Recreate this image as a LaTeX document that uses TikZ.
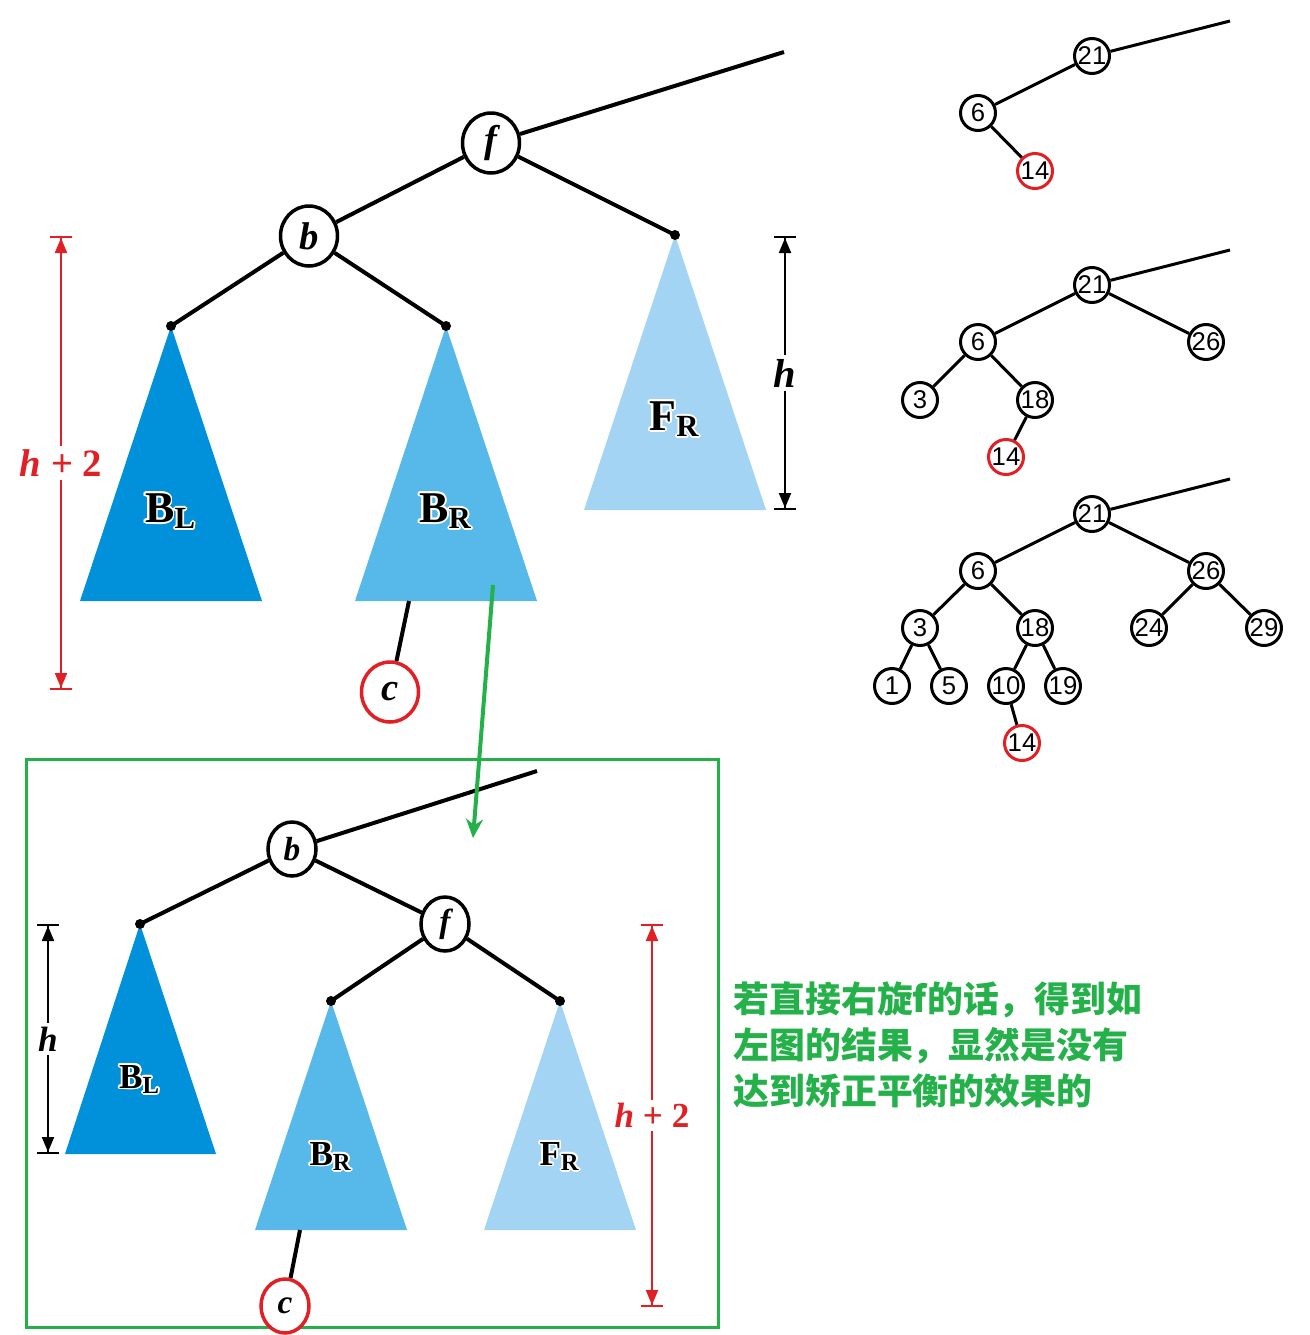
\documentclass[tikz,border=0pt]{standalone}
\usepackage{fontspec}
\setmainfont{Liberation Serif}
\newfontfamily\numfont{Liberation Sans}
\newfontfamily\cjkfont{Noto Sans CJK SC}
\usepackage{contour}
\contourlength{0.5pt}
\usetikzlibrary{arrows.meta,positioning,shapes.geometric}
\definecolor{treeBL}{RGB}{0,145,218}
\definecolor{treeBR}{RGB}{86,185,234}
\definecolor{treeFR}{RGB}{163,212,243}
\definecolor{markred}{RGB}{224,32,36}
\definecolor{notegreen}{RGB}{36,177,74}
\newcommand{\treelabel}[2]{\contour{white}{#1\textsubscript{#2}}}

\begin{document}
\begin{tikzpicture}[x=0.1mm,y=-0.1mm,on grid,
	big/.style={ellipse,draw,line width=0.35mm,fill=white,inner sep=0pt,minimum width=5.7mm,minimum height=6mm,font=\fontsize{11}{13}\selectfont\bfseries\itshape},
	big2/.style={big,minimum width=4.8mm,minimum height=5.4mm,font=\fontsize{9.5}{11}\selectfont\bfseries\itshape},
	small/.style={circle,draw,line width=0.3mm,fill=white,inner sep=0pt,minimum size=3.5mm,font=\numfont\fontsize{7.3}{8}\selectfont},
	new/.style={draw=markred},
	link/.style={line width=0.4mm},
	thin link/.style={line width=0.3mm},
	dim/.style={line width=0.2mm,{Bar[width=2.2mm]Triangle[length=1.5mm,width=1.2mm]}-{Triangle[length=1.5mm,width=1.2mm]Bar[width=2.2mm]}},
	dimlabel/.style={fill=white,inner sep=1pt,font=\fontsize{#1}{14}\selectfont\bfseries},
	sub/.style={font=\fontsize{#1}{14}\selectfont\bfseries}]
	\useasboundingbox (0,0) rectangle (1310,1335);

	\coordinate (bl_1) at (171,326);
	\coordinate (br_1) at (446,326);
	\coordinate (fr_1) at (675,235);
	\coordinate (top_1) at (784,52);
	\coordinate (cb_1) at (409,601);
	\fill[treeBL] (bl_1) -- (80,601) -- (262,601) -- cycle;
	\fill[treeBR] (br_1) -- (355,601) -- (537,601) -- cycle;
	\fill[treeFR] (fr_1) -- (584,510) -- (766,510) -- cycle;
	\node[big] (f_1) at (491,143) {f};
	\node[big] (b_1) at (309,236) {b};
	\node[big,new] (c_1) at (390,692) {c};
	\node[sub=12.5] (lbl_bl1) at (171,512) {\treelabel{B}{L}};
	\node[sub=12.5] (lbl_br1) at (446,512) {\treelabel{B}{R}};
	\node[sub=12.5] (lbl_fr1) at (675,420) {\treelabel{F}{R}};
	\path[link]
		(f_1)	edge (top_1)
			edge (b_1)
			edge (fr_1)
		(b_1)	edge (bl_1)
			edge (br_1)
		(cb_1)	edge (c_1);
	\coordinate (d1_top) at (61,236);
	\coordinate (d1_bot) at (61,690);
	\coordinate (d2_top) at (785,236);
	\coordinate (d2_bot) at (785,510);
	\draw[dim,markred] (d1_top) -- node[dimlabel=11,text=markred] {\textit{h} + 2} (d1_bot);
	\draw[dim] (d2_top) -- node[dimlabel=11.5] {\textit{h}} (d2_bot);

	\draw[notegreen,line width=0.3mm] (26,759) rectangle (718,1327);

	\coordinate (bl_2) at (140,924);
	\coordinate (br_2) at (331,1001);
	\coordinate (fr_2) at (560,1001);
	\coordinate (top_2) at (537,771);
	\coordinate (cb_2) at (300,1230);
	\fill[treeBL] (bl_2) -- (65,1154) -- (216,1154) -- cycle;
	\fill[treeBR] (br_2) -- (255,1230) -- (407,1230) -- cycle;
	\fill[treeFR] (fr_2) -- (484,1230) -- (636,1230) -- cycle;
	\node[big2] (b_2) at (292,849) {b};
	\node[big2] (f_2) at (445,924) {f};
	\node[big2,new] (c_2) at (285,1306) {c};
	\node[sub=10] (lbl_bl2) at (140,1080) {\treelabel{B}{L}};
	\node[sub=10] (lbl_br2) at (331,1157) {\treelabel{B}{R}};
	\node[sub=10] (lbl_fr2) at (560,1157) {\treelabel{F}{R}};
	\path[link]
		(b_2)	edge (top_2)
			edge (bl_2)
			edge (f_2)
		(f_2)	edge (br_2)
			edge (fr_2)
		(cb_2)	edge (c_2);
	\coordinate (d3_top) at (48,924);
	\coordinate (d3_bot) at (48,1154);
	\coordinate (d4_top) at (652,924);
	\coordinate (d4_bot) at (652,1307);
	\draw[dim] (d3_top) -- node[dimlabel=10] {\textit{h}} (d3_bot);
	\draw[dim,markred] (d4_top) -- node[dimlabel=10,text=markred] {\textit{h} + 2} (d4_bot);

	\foreach \p in {bl_1,br_1,fr_1,bl_2,br_2,fr_2}
		\fill (\p) circle[radius=5];

	\node[small] (t1_21) at (1092,56) {21};
	\node[small] (t1_6) [below left=5.7mm and 11.4mm of t1_21] {6};
	\node[small,new] (t1_14) [below right=5.8mm and 5.7mm of t1_6] {14};
	\coordinate (t1_top) at (1230,21);
	\path[thin link]
		(t1_21)	edge (t1_top)
			edge (t1_6)
		(t1_6)	edge (t1_14);

	\node[small] (t2_21) at (1092,285) {21};
	\node[small] (t2_6) [below left=5.7mm and 11.4mm of t2_21] {6};
	\node[small] (t2_26) [below right=5.7mm and 11.4mm of t2_21] {26};
	\node[small] (t2_3) [below left=5.8mm and 5.8mm of t2_6] {3};
	\node[small] (t2_18) [below right=5.8mm and 5.7mm of t2_6] {18};
	\node[small,new] (t2_14) [below left=5.7mm and 2.9mm of t2_18] {14};
	\coordinate (t2_top) at (1230,250);
	\path[thin link]
		(t2_21)	edge (t2_top)
			edge (t2_6)
			edge (t2_26)
		(t2_6)	edge (t2_3)
			edge (t2_18)
		(t2_18)	edge (t2_14);

	\node[small] (t3_21) at (1092,514) {21};
	\node[small] (t3_6) [below left=5.7mm and 11.4mm of t3_21] {6};
	\node[small] (t3_26) [below right=5.7mm and 11.4mm of t3_21] {26};
	\node[small] (t3_3) [below left=5.7mm and 5.8mm of t3_6] {3};
	\node[small] (t3_18) [below right=5.7mm and 5.7mm of t3_6] {18};
	\node[small] (t3_24) [below left=5.7mm and 5.7mm of t3_26] {24};
	\node[small] (t3_29) [below right=5.7mm and 5.8mm of t3_26] {29};
	\node[small] (t3_1) [below left=5.8mm and 2.8mm of t3_3] {1};
	\node[small] (t3_5) [below right=5.8mm and 2.9mm of t3_3] {5};
	\node[small] (t3_10) [below left=5.8mm and 2.9mm of t3_18] {10};
	\node[small] (t3_19) [below right=5.8mm and 2.8mm of t3_18] {19};
	\node[small,new] (t3_14) [below right=5.7mm and 1.6mm of t3_10] {14};
	\coordinate (t3_top) at (1230,479);
	\path[thin link]
		(t3_21)	edge (t3_top)
			edge (t3_6)
			edge (t3_26)
		(t3_6)	edge (t3_3)
			edge (t3_18)
		(t3_26)	edge (t3_24)
			edge (t3_29)
		(t3_3)	edge (t3_1)
			edge (t3_5)
		(t3_18)	edge (t3_10)
			edge (t3_19)
		(t3_10)	edge (t3_14);

	\node[anchor=north west,inner sep=0pt,align=left,text=notegreen,font=\cjkfont\bfseries\fontsize{10.2}{13.1}\selectfont] (note) at (733,981) {若直接右旋f的话，得到如\\左图的结果，显然是没有\\达到矫正平衡的效果的};

	\coordinate (g_from) at (493,585);
	\coordinate (g_to) at (473,838);
	\draw[notegreen,line width=0.4mm,-{Stealth[length=1.9mm,width=1.7mm]}] (g_from) -- (g_to);
\end{tikzpicture}
\end{document}
